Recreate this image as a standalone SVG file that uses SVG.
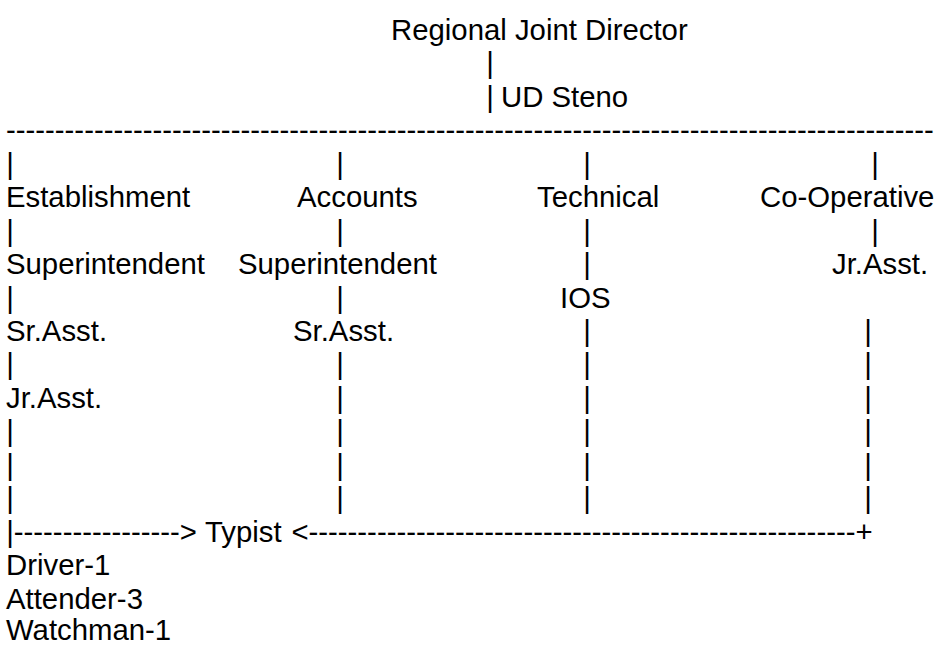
<svg xmlns="http://www.w3.org/2000/svg" width="935" height="646" viewBox="0 0 935 646">
<style>
text{font-family:"Liberation Sans",Arial,sans-serif;font-size:29.33px;fill:#000;white-space:pre}
</style>
<rect x="0" y="0" width="935" height="646" fill="#fff"/>
<g id="connectors">
<text x="486.2" y="73.4">|</text>
<text x="486.2" y="106.9">|</text>
<text x="6" y="140.3">-----------------------------------------------------------------------------------------------</text>
<text x="6.2" y="173.8">|</text><text x="336.2" y="173.8">|</text><text x="583.2" y="173.8">|</text><text x="871.2" y="173.8">|</text>
<text x="6.2" y="240.6">|</text><text x="336.2" y="240.6">|</text><text x="583.2" y="240.6">|</text><text x="871.2" y="240.6">|</text>
<text x="583.2" y="274.1">|</text>
<text x="6.2" y="307.5">|</text><text x="336.2" y="307.5">|</text>
<text x="583.2" y="341">|</text><text x="864.2" y="341">|</text>
<text x="6.2" y="374.4">|</text><text x="336.2" y="374.4">|</text><text x="583.2" y="374.4">|</text><text x="864.2" y="374.4">|</text>
<text x="336.2" y="407.8">|</text><text x="583.2" y="407.8">|</text><text x="864.2" y="407.8">|</text>
<text x="6.2" y="441.3">|</text><text x="336.2" y="441.3">|</text><text x="583.2" y="441.3">|</text><text x="864.2" y="441.3">|</text>
<text x="6.2" y="474.7">|</text><text x="336.2" y="474.7">|</text><text x="583.2" y="474.7">|</text><text x="864.2" y="474.7">|</text>
<text x="6.2" y="508.2">|</text><text x="336.2" y="508.2">|</text><text x="583.2" y="508.2">|</text><text x="864.2" y="508.2">|</text>
<text x="6.2" y="541.6">|-----------------&gt;</text>
<text x="291.4" y="541.6">&lt;--------------------------------------------------------+</text>
</g>
<g id="regional-joint-director"><text x="391" y="40">Regional Joint Director</text></g>
<g id="ud-steno"><text x="501" y="106.9">UD Steno</text></g>
<g id="establishment"><text x="6" y="207.2">Establishment</text></g>
<g id="accounts"><text x="297" y="207.2">Accounts</text></g>
<g id="technical"><text x="537" y="207.2">Technical</text></g>
<g id="co-operative"><text x="760" y="207.2">Co-Operative</text></g>
<g id="est-superintendent"><text x="6" y="274.1">Superintendent</text></g>
<g id="acc-superintendent"><text x="238" y="274.1">Superintendent</text></g>
<g id="coop-jr-asst"><text x="832" y="274.1">Jr.Asst.</text></g>
<g id="ios"><text x="560" y="307.5">IOS</text></g>
<g id="est-sr-asst"><text x="6" y="341">Sr.Asst.</text></g>
<g id="acc-sr-asst"><text x="293" y="341">Sr.Asst.</text></g>
<g id="est-jr-asst"><text x="6" y="407.8">Jr.Asst.</text></g>
<g id="typist"><text x="205" y="541.6">Typist</text></g>
<g id="driver"><text x="6" y="575">Driver-1</text></g>
<g id="attender"><text x="6" y="608.5">Attender-3</text></g>
<g id="watchman"><text x="6" y="640">Watchman-1</text></g>
</svg>
